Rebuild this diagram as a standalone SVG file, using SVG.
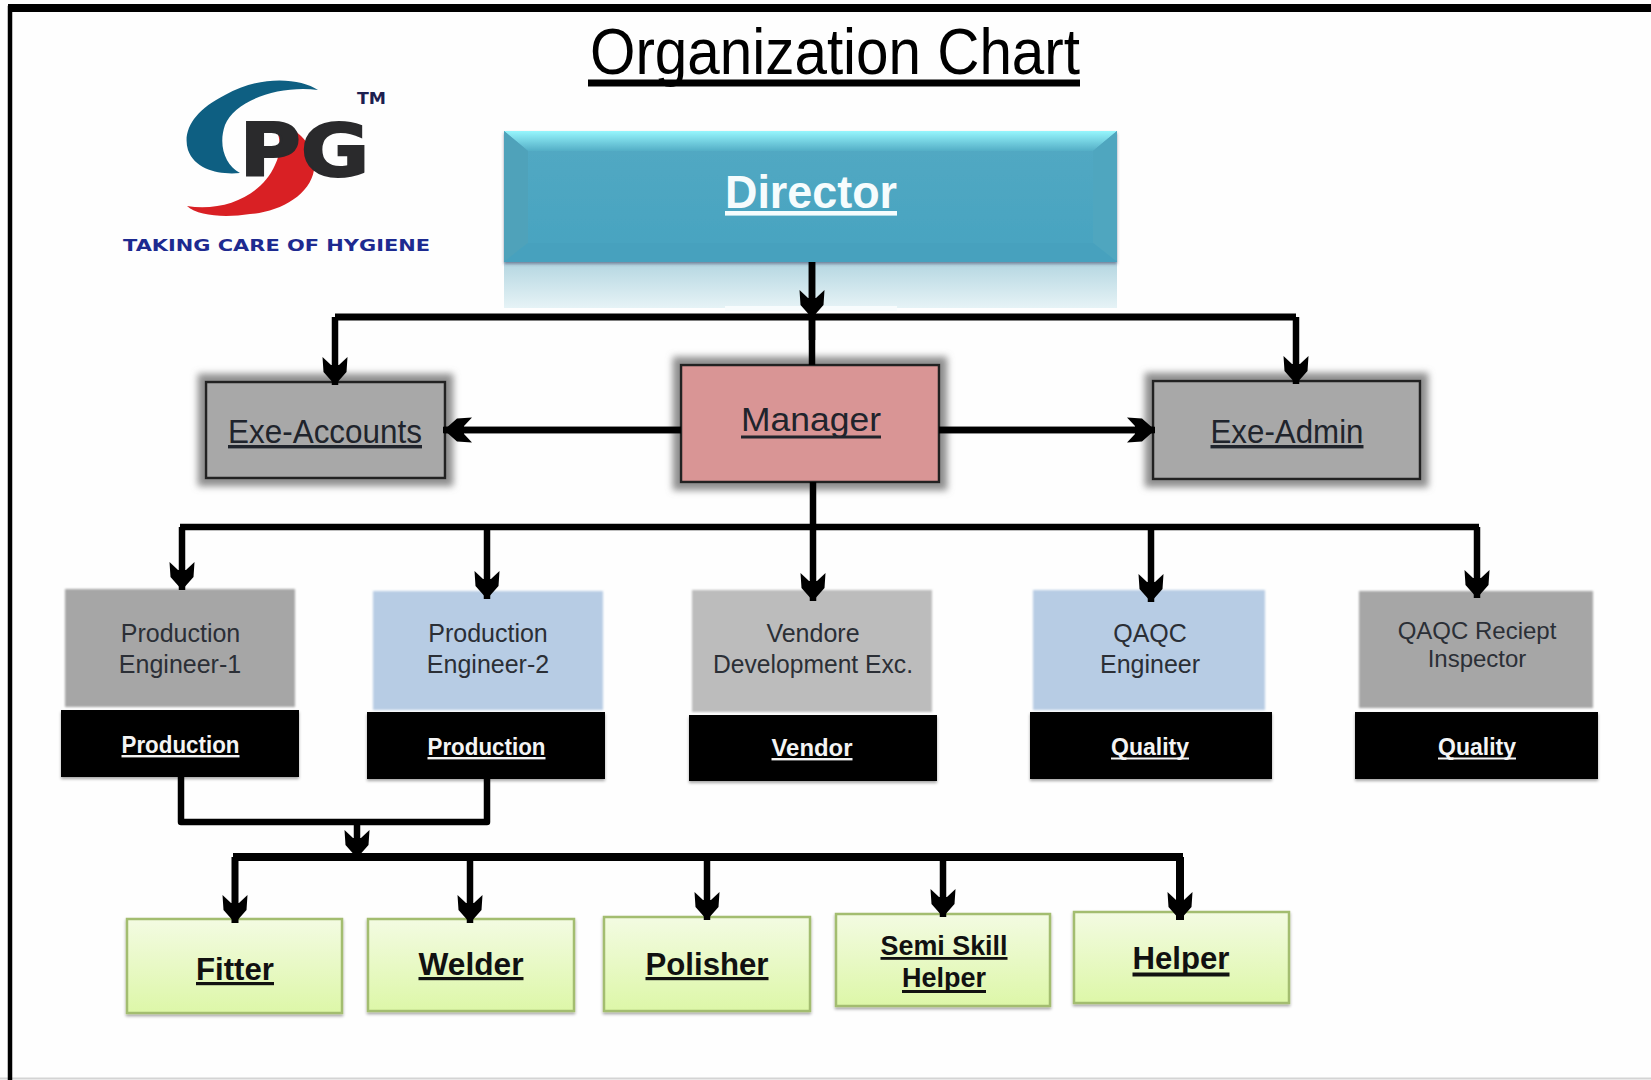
<svg xmlns="http://www.w3.org/2000/svg" width="1651" height="1080" viewBox="0 0 1651 1080">
<style>
text{font-family:"Liberation Sans",Arial,sans-serif;text-anchor:middle}
.body{font-size:25px;fill:#2b2f36}
.small{font-size:24px;fill:#2b2f36}
.exe{font-size:34px;fill:#20242c}
.lab{font-size:24px;font-weight:bold;fill:#f4f4f4}
.work{font-size:32px;font-weight:bold;fill:#111}
.work2{font-size:28px;font-weight:bold;fill:#111}
.und{text-decoration:underline}
.exe.und{text-decoration-thickness:3px}
.lab.und{text-decoration-thickness:2px}
.work.und{text-decoration-thickness:4px}
.work2.und{text-decoration-thickness:3px}
.black{fill:#000;filter:url(#soft)}
.gray{fill:#a6a6a6;filter:url(#edge)}
.blue{fill:#b7cce4;filter:url(#edge)}
.lgray{fill:#bcbcbc;filter:url(#edge)}
.green{fill:url(#gGreen);stroke:#a3bd6f;stroke-width:2.5;filter:url(#soft)}
.conn{fill:none;stroke:#000;stroke-width:6.5;stroke-linejoin:round}
.arrow{marker-end:url(#head)}
</style>
<defs>
<linearGradient id="gGreen" x1="0" y1="0" x2="0" y2="1"><stop offset="0" stop-color="#f3fbe2"/><stop offset="1" stop-color="#ddf7a8"/></linearGradient>
<linearGradient id="gMain" x1="0" y1="0" x2="0" y2="1"><stop offset="0" stop-color="#53a9c3"/><stop offset="1" stop-color="#47a3c0"/></linearGradient>
<linearGradient id="gTop" x1="0" y1="0" x2="0" y2="1"><stop offset="0" stop-color="#96f6fd"/><stop offset="1" stop-color="#54aec6"/></linearGradient>
<linearGradient id="gRefl" x1="0" y1="0" x2="0" y2="1"><stop offset="0" stop-color="#b4d6e1"/><stop offset="1" stop-color="#e6f3f6"/></linearGradient>
<filter id="glow" x="-10%" y="-20%" width="120%" height="140%"><feMorphology in="SourceAlpha" operator="dilate" radius="7"/><feGaussianBlur stdDeviation="3.500"/><feColorMatrix values="0 0 0 0 .22 0 0 0 0 .22 0 0 0 0 .22 0 0 0 .9 0"/><feMerge><feMergeNode/><feMergeNode in="SourceGraphic"/></feMerge></filter>
<filter id="soft" x="-5%" y="-5%" width="110%" height="115%"><feDropShadow dx="0" dy="2" stdDeviation="1.500" flood-color="#000" flood-opacity=".35"/></filter>
<filter id="edge" x="-3%" y="-3%" width="106%" height="106%"><feGaussianBlur stdDeviation="1.200"/></filter>
<filter id="dirShadow" x="-2%" y="-5%" width="104%" height="110%"><feDropShadow dx="0" dy="2" stdDeviation="1.500" flood-color="#335" flood-opacity=".5"/></filter>
<marker id="head" markerUnits="userSpaceOnUse" markerWidth="28" markerHeight="26" refX="28" refY="13" orient="auto"><path d="M0,.5 L8,9 L8,17 L0,25.500 L15,24.500 L28,13 L15,1.500 Z" fill="#000"/></marker>
</defs>
<rect width="1651" height="1080" fill="#fefefe"/>
<g id="frame" fill="none">
<path d="M0,1078.500H1651" stroke="#d4d4d4" stroke-width="2"/>
<path d="M10,1080V8H1651" stroke="#000" stroke-width="4.500"/>
<path d="M8,8H1651" stroke="#000" stroke-width="8"/>
</g>
<g id="title">
<text x="835" y="74" font-size="65" textLength="490" lengthAdjust="spacingAndGlyphs" fill="#000">Organization Chart</text>
<rect x="588" y="79.500" width="492" height="7" fill="#000"/>
</g>
<g id="logo">
<path d="M318,90 C300,78 260,75 225,95 C195,110 182,130 188,150 C195,170 220,175 240,173 C225,165 218,145 225,125 C235,100 280,85 318,90 Z" fill="#0e5f82"/>
<path d="M187,206 C225,212 262,195 275,165 C283,150 280,130 271,121 C295,125 317,145 314,170 C310,195 280,212 250,214 C225,218 198,216 187,206 Z" fill="#d92024"/>
<text x="304.500" y="176" font-size="73" font-weight="bold" textLength="130" lengthAdjust="spacingAndGlyphs" stroke="#2a2a2c" stroke-width="2" style="font-family:'DejaVu Sans',sans-serif;fill:#2a2a2c">PG</text>
<text x="371.500" y="104" font-size="15" font-weight="bold" textLength="29" lengthAdjust="spacingAndGlyphs" style="font-family:'DejaVu Sans',sans-serif;fill:#1d2050">TM</text>
<text x="276.500" y="251" font-size="16" font-weight="bold" textLength="307" lengthAdjust="spacingAndGlyphs" style="font-family:'DejaVu Sans',sans-serif;fill:#1d2a90">TAKING CARE OF HYGIENE</text>
</g>
<g id="director">
<rect x="504" y="262" width="613" height="46" fill="url(#gRefl)"/>
<rect x="725" y="306" width="172" height="5" fill="#f8fcfd"/>
<g filter="url(#dirShadow)">
<rect x="504" y="131" width="613" height="131" fill="url(#gMain)"/>
<polygon points="504,131 1117,131 1093,151 528,151" fill="url(#gTop)"/>
<polygon points="504,131 528,151 528,243 504,262" fill="#4fa2ba"/>
<polygon points="1117,131 1093,151 1093,243 1117,262" fill="#4fa6bf"/>
<polygon points="504,262 528,243 1093,243 1117,262" fill="#47a1be"/>
</g>
<text x="811" y="208" font-size="46" font-weight="bold" textLength="172" lengthAdjust="spacingAndGlyphs" style="fill:#f6fcfd;text-decoration:underline;text-decoration-thickness:4px">Director</text>
</g>
<g id="exe-accounts">
<rect x="206" y="382" width="239" height="96" fill="#a8a8a8" stroke="#222" stroke-width="2.500" filter="url(#glow)"/>
<text class="exe und" x="325" y="443" textLength="194" lengthAdjust="spacingAndGlyphs">Exe-Accounts</text>
</g>
<g id="manager">
<rect x="681" y="365" width="258" height="117" fill="#d99595" stroke="#222" stroke-width="2.500" filter="url(#glow)"/>
<text class="exe" x="811" y="431" textLength="140" lengthAdjust="spacingAndGlyphs">Manager</text>
<rect x="741" y="435.500" width="140" height="3" fill="#20242c"/>
</g>
<g id="exe-admin">
<rect x="1153" y="381" width="267" height="98" fill="#a8a8a8" stroke="#222" stroke-width="2.500" filter="url(#glow)"/>
<text class="exe und" x="1287" y="443" textLength="153" lengthAdjust="spacingAndGlyphs">Exe-Admin</text>
</g>
<g id="production-engineer-1">
<rect class="gray" x="65" y="589" width="230" height="118"/>
<text class="body" x="180.500" y="642">Production</text>
<text class="body" x="180" y="673">Engineer-1</text>
<rect class="black" x="61" y="710" width="238" height="67"/>
<text class="lab und" x="180.500" y="753" textLength="118" lengthAdjust="spacingAndGlyphs">Production</text>
</g>
<g id="production-engineer-2">
<rect class="blue" x="373" y="591" width="230" height="119"/>
<text class="body" x="488" y="642">Production</text>
<text class="body" x="488" y="673">Engineer-2</text>
<rect class="black" x="367" y="712" width="238" height="67"/>
<text class="lab und" x="486.500" y="755" textLength="118" lengthAdjust="spacingAndGlyphs">Production</text>
</g>
<g id="vendore-development">
<rect class="lgray" x="692" y="590" width="240" height="122"/>
<text class="body" x="813" y="642">Vendore</text>
<text class="body" x="813" y="673" textLength="200" lengthAdjust="spacingAndGlyphs">Development Exc.</text>
<rect class="black" x="689" y="715" width="248" height="66"/>
<text class="lab und" x="812" y="756" textLength="81" lengthAdjust="spacingAndGlyphs">Vendor</text>
</g>
<g id="qaqc-engineer">
<rect class="blue" x="1033" y="590" width="232" height="120"/>
<text class="body" x="1150" y="642">QAQC</text>
<text class="body" x="1150" y="673">Engineer</text>
<rect class="black" x="1030" y="712" width="242" height="67"/>
<text class="lab" x="1150" y="755" textLength="78" lengthAdjust="spacingAndGlyphs">Quality</text>
<rect x="1111" y="757.500" width="78" height="2" fill="#f4f4f4"/>
</g>
<g id="qaqc-reciept-inspector">
<rect class="gray" x="1359" y="591" width="234" height="117"/>
<text class="small" x="1477" y="639">QAQC Reciept</text>
<text class="small" x="1477" y="667">Inspector</text>
<rect class="black" x="1355" y="712" width="243" height="67"/>
<text class="lab" x="1477" y="755" textLength="78" lengthAdjust="spacingAndGlyphs">Quality</text>
<rect x="1438" y="757.500" width="78" height="2" fill="#f4f4f4"/>
</g>
<g id="fitter">
<rect class="green" x="127" y="919" width="215" height="94"/>
<text class="work und" x="235" y="980" textLength="78" lengthAdjust="spacingAndGlyphs">Fitter</text>
</g>
<g id="welder">
<rect class="green" x="368" y="919" width="206" height="92"/>
<text class="work und" x="471" y="975" textLength="105" lengthAdjust="spacingAndGlyphs">Welder</text>
</g>
<g id="polisher">
<rect class="green" x="604" y="917" width="206" height="94"/>
<text class="work und" x="707" y="975" textLength="123" lengthAdjust="spacingAndGlyphs">Polisher</text>
</g>
<g id="semi-skill-helper">
<rect class="green" x="836" y="914" width="214" height="92"/>
<text class="work2 und" x="944" y="955" textLength="127" lengthAdjust="spacingAndGlyphs">Semi Skill</text>
<text class="work2" x="944" y="987" textLength="84" lengthAdjust="spacingAndGlyphs">Helper</text>
<rect x="902" y="990" width="84" height="3" fill="#111"/>
</g>
<g id="helper">
<rect class="green" x="1074" y="912" width="215" height="91"/>
<text class="work" x="1181" y="969" textLength="97" lengthAdjust="spacingAndGlyphs">Helper</text>
<rect x="1132.500" y="972.500" width="97" height="4" fill="#111"/>
</g>
<g id="connectors">
<path class="conn" d="M812,262V340"/>
<path class="conn" style="stroke-width:7" d="M335,317H1296"/>
<path class="conn" d="M812,317V365"/>
<path class="conn" d="M681,430H443"/>
<path class="conn" d="M939,430H1153"/>
<path class="conn arrow" d="M812,262V318"/>
<path class="conn arrow" d="M335,317V385"/>
<path class="conn arrow" d="M1296,317V384"/>
<path class="conn arrow" d="M681,430H444"/>
<path class="conn arrow" d="M939,430H1155"/>
<path class="conn" d="M813,482V527"/>
<path class="conn" d="M180,527H1479"/>
<path class="conn arrow" d="M182,527V590"/>
<path class="conn arrow" d="M487,527V599"/>
<path class="conn arrow" d="M813,527V601"/>
<path class="conn arrow" d="M1151,527V602"/>
<path class="conn arrow" d="M1477,527V598"/>
<path class="conn" d="M181,777V822H487V779"/>
<path class="conn arrow" d="M357,822V858"/>
<path class="conn" style="stroke-width:8" d="M233,857H1183"/>
<path class="conn arrow" style="stroke-width:7" d="M235,857V923"/>
<path class="conn arrow" d="M470,857V923"/>
<path class="conn arrow" d="M707,857V920"/>
<path class="conn arrow" d="M943,857V917"/>
<path class="conn arrow" style="stroke-width:8" d="M1180,857V920"/>
</g>
</svg>
